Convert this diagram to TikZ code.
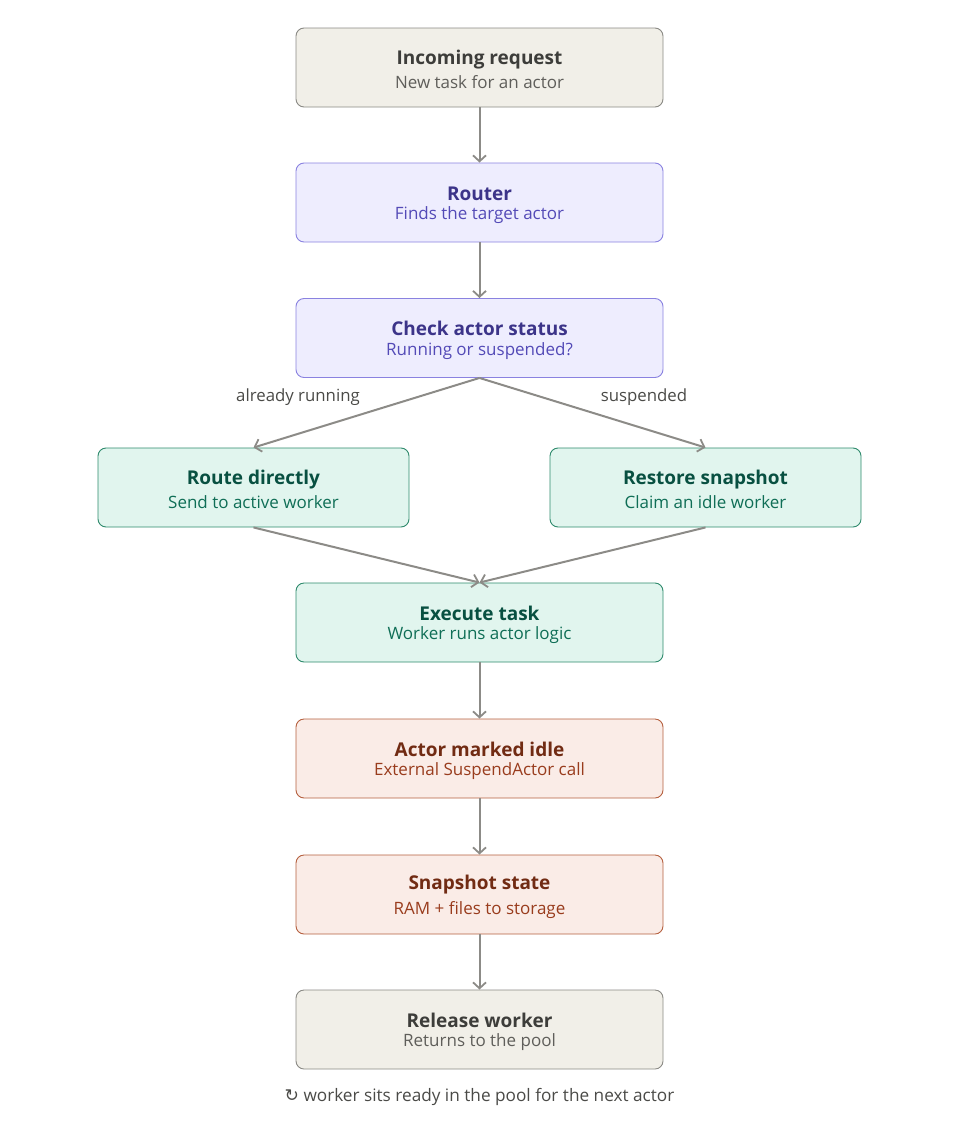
\documentclass[tikz,border=0pt]{standalone}
\usepackage{fontspec}
\setmainfont{Open Sans}
\newfontfamily\symfont{DejaVu Sans}
\usetikzlibrary{arrows.meta}
\definecolor{grayfill}{HTML}{F1EFE8}
\definecolor{grayline}{HTML}{8A8984}
\definecolor{graytitle}{HTML}{3D3D3A}
\definecolor{graysub}{HTML}{5F5E5A}
\definecolor{purfill}{HTML}{EEEDFE}
\definecolor{purline}{HTML}{8A82E0}
\definecolor{purtitle}{HTML}{3C3489}
\definecolor{pursub}{HTML}{534AB7}
\definecolor{grnfill}{HTML}{E1F5EE}
\definecolor{grnline}{HTML}{2E8A6C}
\definecolor{grntitle}{HTML}{085041}
\definecolor{grnsub}{HTML}{0F6E56}
\definecolor{corfill}{HTML}{FAECE7}
\definecolor{corline}{HTML}{B5603F}
\definecolor{cortitle}{HTML}{712B13}
\definecolor{corsub}{HTML}{993C1D}
\definecolor{arrowgray}{HTML}{8C8B87}
\definecolor{labelgray}{HTML}{4A4A47}
\begin{document}
\begin{tikzpicture}[x=1pt,y=-1pt,
  box/.style={draw, line width=0.9pt, rounded corners=8pt, minimum height=79pt, inner sep=0pt, align=center},
  wide/.style={box, minimum width=367pt},
  side/.style={box, minimum width=311pt},
  graybox/.style={fill=grayfill, draw=grayline},
  purbox/.style={fill=purfill, draw=purline},
  grnbox/.style={fill=grnfill, draw=grnline},
  corbox/.style={fill=corfill, draw=corline},
  conn/.style={draw=arrowgray, line width=2pt, -{Straight Barb[length=6pt,width=13pt,line width=1.8pt]}},
  lbl/.style={font=\fontsize{16.8}{20}\selectfont, text=labelgray}
]
\useasboundingbox (0,0) rectangle (960,1143);
\newcommand{\twoline}[4]{{\fontsize{19}{22}\selectfont\bfseries\color{#1}\rule{0pt}{19pt}#3}\\[5.5pt]{\fontsize{17}{20}\selectfont\color{#2}#4}}

\node[wide, graybox] (inc) at (479.5,67.5) {\twoline{graytitle}{graysub}{Incoming request}{New task for an actor}};
\node[wide, purbox] (rou) at (479.5,202.5) {\twoline{purtitle}{pursub}{Router}{Finds the target actor}};
\node[wide, purbox] (chk) at (479.5,338) {\twoline{purtitle}{pursub}{Check actor status}{Running or suspended?}};
\node[side, grnbox] (dir) at (253.5,487.5) {\twoline{grntitle}{grnsub}{Route directly}{Send to active worker}};
\node[side, grnbox] (res) at (705.5,487.5) {\twoline{grntitle}{grnsub}{Restore snapshot}{Claim an idle worker}};
\node[wide, grnbox] (exe) at (479.5,622.5) {\twoline{grntitle}{grnsub}{Execute task}{Worker runs actor logic}};
\node[wide, corbox] (idl) at (479.5,758.5) {\twoline{cortitle}{corsub}{Actor marked idle}{External SuspendActor call}};
\node[wide, corbox] (snp) at (479.5,894.5) {\twoline{cortitle}{corsub}{Snapshot state}{RAM + files to storage}};
\node[wide, graybox] (rel) at (479.5,1029.5) {\twoline{graytitle}{graysub}{Release worker}{Returns to the pool}};

\node[lbl] (lrun) at (298,397) {already running};
\node[lbl] (lsus) at (644,397) {suspended};
\node[lbl, font=\fontsize{17.2}{20}\selectfont] (foot) at (479.5,1097) {{\symfont ↻} worker sits ready in the pool for the next actor};

\draw[conn] (inc.south) -- (rou.north);
\draw[conn] (rou.south) -- (chk.north);
\draw[conn] (chk.south) -- (dir.north);
\draw[conn] (chk.south) -- (res.north);
\draw[conn] (dir.south) -- (exe.north);
\draw[conn] (res.south) -- (exe.north);
\draw[conn] (exe.south) -- (idl.north);
\draw[conn] (idl.south) -- (snp.north);
\draw[conn] (snp.south) -- (rel.north);
\end{tikzpicture}
\end{document}
